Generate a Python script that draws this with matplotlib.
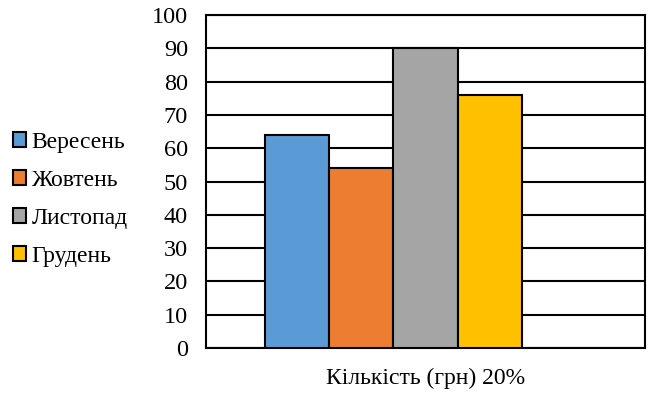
import matplotlib.pyplot as plt
import numpy as np
from matplotlib.patches import Patch

plt.rcParams['font.family'] = ['Liberation Serif', 'DejaVu Serif']

months = ['Вересень', 'Жовтень', 'Листопад', 'Грудень']
values = [64, 54, 90, 76]
colors = ['#5B9BD5', '#ED7D31', '#A5A5A5', '#FFC000']
category = 'Кількість (грн) 20%'
yticks = np.arange(0, 101, 10)

fig = plt.figure(figsize=(6.57, 3.93), dpi=100)
ax = fig.add_axes([0.3135, 0.1145, 0.6682, 0.8473])

# 5 slots per group (Excel layout), last slot empty
slots = 5
width = 1.0
x = np.arange(slots) * width - (slots - 1) * width / 2
for i in range(len(months)):
    ax.bar(x[i], values[i], width, color=colors[i], edgecolor='black',
           linewidth=1.5, zorder=3)

ax.set_xlim(-slots * width / 2 - 0.92, slots * width / 2 + 0.92)
ax.set_ylim(0, 100)
ax.set_yticks(yticks)
ax.set_xticks([0])
ax.set_xticklabels([category])
ax.tick_params(axis='y', length=0, labelsize=17.5, pad=13)
ax.tick_params(axis='x', length=0, labelsize=17, pad=14)
ax.yaxis.grid(True, color='black', linewidth=1.5, zorder=0)
for s in ax.spines.values():
    s.set_linewidth(1.5)
    s.set_color('black')

handles = [Patch(facecolor=c, edgecolor='black', linewidth=1.5) for c in colors]
fig.legend(handles, months, loc='center left', bbox_to_anchor=(0.005, 0.493),
           frameon=False, fontsize=17, handlelength=0.55, handleheight=0.55,
           handletextpad=0.25, labelspacing=0.72, borderaxespad=0)

fig.savefig('out.png', dpi=100)
